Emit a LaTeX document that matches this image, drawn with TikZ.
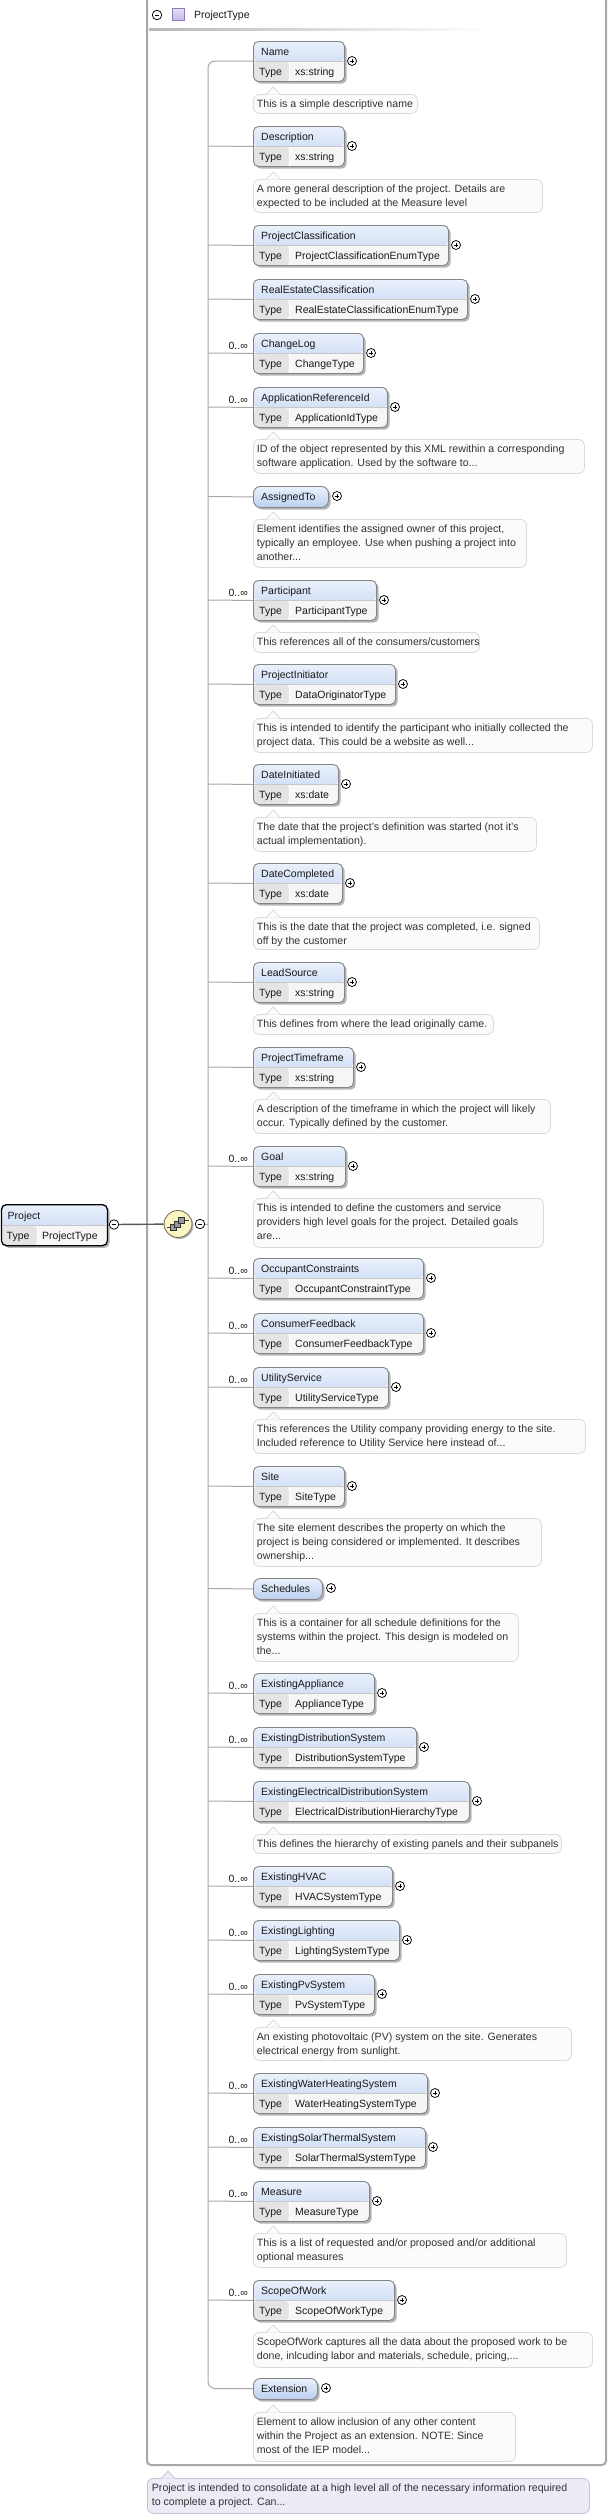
\documentclass[tikz,border=0pt]{standalone}
\usepackage{fontspec}
\setmainfont{Liberation Sans}
\usetikzlibrary{shadows,shapes.geometric}
\definecolor{framec}{HTML}{A8A8A8}
\definecolor{treec}{HTML}{A8A8A8}
\definecolor{boxc}{HTML}{858585}
\definecolor{hdtop}{HTML}{EAF1FC}
\definecolor{hdbot}{HTML}{BCD0F0}
\definecolor{typec}{HTML}{E4E4E4}
\definecolor{valc}{HTML}{F6F6F6}
\definecolor{shadc}{HTML}{B4B4B4}
\definecolor{docfill}{HTML}{FBFBFB}
\definecolor{docline}{HTML}{DADADA}
\definecolor{pdocfill}{HTML}{EEEAF6}
\definecolor{pdocline}{HTML}{C9C3D6}
\definecolor{seqfill}{HTML}{FBF6C4}
\definecolor{seqline}{HTML}{7A7660}
\definecolor{sqfill}{HTML}{C6B6E4}
\definecolor{sqline}{HTML}{8C7DB4}
\definecolor{txt}{HTML}{1A1A1A}
\newif\ifconn
\conntrue
\newcommand\tdots{...}
\tikzset{
 etext/.style={anchor=base west, inner sep=0pt, text=txt, font=\fontsize{10.5}{12}\selectfont},
 dtext/.style={anchor=base west, inner sep=0pt, text=black!80, font=\fontsize{10.6}{12}\selectfont},
 mtext/.style={anchor=base east, inner sep=0pt, text=txt, font=\fontsize{10.5}{12}\selectfont},
 treeline/.style={draw=treec, line width=1pt},
 shad/.style={drop shadow={shadow xshift=2.2pt, shadow yshift=-2.2pt, fill=shadc, opacity=1}},
 elembox/.style={anchor=north west, inner sep=0pt, minimum height=40pt, draw=boxc, line width=0.9pt,
   rounded corners=5pt, fill=valc, shad,
   path picture={
     \fill[top color=hdtop, bottom color=hdbot] (path picture bounding box.north west) rectangle ([yshift=20pt]path picture bounding box.south east);
     \fill[typec] ([yshift=20pt]path picture bounding box.south west) rectangle ([xshift=36pt]path picture bounding box.south west);
     \draw[white, line width=1pt] ([xshift=36pt]path picture bounding box.south west) -- ([xshift=36pt,yshift=20pt]path picture bounding box.south west);
     \draw[black!22, line width=0.6pt] ([yshift=20pt]path picture bounding box.south west) -- ([yshift=20pt]path picture bounding box.south east);
   }},
 projbox/.style={elembox, draw=black, line width=1.3pt, minimum height=41pt},
 pillbox/.style={anchor=north west, inner sep=0pt, minimum height=21pt, draw=boxc, line width=0.9pt,
   rounded corners=7pt, top color=hdtop, bottom color=hdbot, shad},
 docbox/.style={anchor=north west, inner sep=0pt, draw=docline, fill=docfill, rounded corners=6pt, line width=0.8pt},
 pdocbox/.style={anchor=north west, inner sep=0pt, draw=pdocline, fill=pdocfill, rounded corners=6pt, line width=0.8pt},
 plusc/.style={circle, draw=black, line width=0.75pt, fill=white, minimum size=9pt, inner sep=0pt,
   path picture={
     \draw[line width=0.75pt] ([xshift=-2.3pt]path picture bounding box.center) -- ([xshift=2.3pt]path picture bounding box.center);
     \draw[line width=0.75pt] ([yshift=-2.3pt]path picture bounding box.center) -- ([yshift=2.3pt]path picture bounding box.center);
   }},
 minusc/.style={circle, draw=black, line width=0.75pt, fill=white, minimum size=9.5pt, inner sep=0pt,
   path picture={
     \draw[line width=0.75pt] ([xshift=-2.4pt]path picture bounding box.center) -- ([xshift=2.4pt]path picture bounding box.center);
   }},
 seqnode/.style={ellipse, draw=seqline, line width=0.9pt, fill=seqfill, minimum width=28pt, minimum height=27pt, inner sep=0pt,
   drop shadow={shadow xshift=1.5pt, shadow yshift=-1.5pt, fill=shadc, opacity=1}},
}
\newcommand\elem[6]{%
  \node[elembox, minimum width={(#3-253)*1pt}] (e#1) at (253,#2) {};
  \node[etext] at (261,#2+14.2) {#4};
  \node[etext] at (259,#2+34) {Type};
  \node[etext] at (295,#2+34) {#5};
  \node[plusc] (p#1) at (#3+8,#2+20) {};
  \coordinate (t#1) at (208,#2+20);
  \ifconn\draw[treeline] (t#1) -- (e#1.west);\fi
  \if\relax\detokenize{#6}\relax\else\node[mtext] at (248,#2+16) {0..∞};\fi
}
\newcommand\pill[3]{%
  \node[pillbox, minimum width={(#3-253)*1pt}] (e#1) at (253,#2) {};
  \node[etext] at (261,#2+14.3) {#1};
  \node[plusc] (p#1) at (#3+9,#2+10) {};
  \coordinate (t#1) at (208,#2+10.5);
  \ifconn\draw[treeline] (t#1) -- (e#1.west);\fi
}
\newcommand\doc[5]{%
  \node[docbox, minimum width={(#4-253)*1pt}, minimum height={(#3-#2)*1pt}] (d#1) at (253,#2) {};
  \fill[docfill] (266.5,#2+0.7) -- (273.3,#2-7) -- (280,#2+0.7) -- cycle;
  \draw[docline, line width=0.8pt] (266.5,#2) -- (273.3,#2-7) -- (280,#2);
  \foreach \dl [count=\k] in {#5} {\node[dtext] at (256.7,#2+13.7*\k) {\dl};}
}
\begin{document}
\begin{tikzpicture}[x=1pt,y=-1pt]
\useasboundingbox[fill=white] (0,0) rectangle (608,2516);
% outer frame
\draw[draw=framec, line width=2pt, fill=white, rounded corners=4pt] (147,-4) rectangle (606,2465);
% header
\node[minusc] (hmin) at (157,15) {};
\node[draw=sqline, top color=sqfill!45, bottom color=sqfill, minimum size=12pt, inner sep=0pt] (hsq) at (178,14.5) {};
\node[etext] (htitle) at (194,18.3) {ProjectType};
\fill[left color=black!28, right color=white] (149,28.5) rectangle (490,30);
% tree
\draw[treeline, rounded corners=7pt] (253,61) -| (208,1224) |- (253,2388.5);
\connfalse
\elem{Name}{41}{344}{Name}{xs:string}{}
\conntrue
\doc{Name}{94}{113}{417}{{This is a simple descriptive name}}
\elem{Description}{126}{344}{Description}{xs:string}{}
\doc{Description}{179}{212}{542}{{A more general description of the project. Details are},{expected to be included at the Measure level}}
\elem{ProjectClassification}{225}{448}{ProjectClassification}{ProjectClassificationEnumType}{}
\elem{RealEstateClassification}{279}{467}{RealEstateClassification}{RealEstateClassificationEnumType}{}
\elem{ChangeLog}{333}{363}{ChangeLog}{ChangeType}{m}
\elem{ApplicationReferenceId}{387}{387}{ApplicationReferenceId}{ApplicationIdType}{m}
\doc{ApplicationReferenceId}{439}{473}{584}{{ID of the object represented by this XML rewithin a corresponding},{software application. Used by the software to\tdots}}
\pill{AssignedTo}{486}{328}
\doc{AssignedTo}{519}{567}{526}{{Element identifies the assigned owner of this project,},{typically an employee. Use when pushing a project into},{another\tdots}}
\elem{Participant}{580}{376}{Participant}{ParticipantType}{m}
\doc{Participant}{632}{652}{479}{{This references all of the consumers/customers}}
\elem{ProjectInitiator}{664}{395}{ProjectInitiator}{DataOriginatorType}{}
\doc{ProjectInitiator}{718}{752}{592}{{This is intended to identify the participant who initially collected the},{project data. This could be a website as well\tdots}}
\elem{DateInitiated}{764}{338}{DateInitiated}{xs:date}{}
\doc{DateInitiated}{817}{851}{536}{{The date that the project's definition was started (not it's},{actual implementation).}}
\elem{DateCompleted}{863}{342}{DateCompleted}{xs:date}{}
\doc{DateCompleted}{917}{949}{539}{{This is the date that the project was completed, i.e. signed},{off by the customer}}
\elem{LeadSource}{962}{344}{LeadSource}{xs:string}{}
\doc{LeadSource}{1014}{1034}{493}{{This defines from where the lead originally came.}}
\elem{ProjectTimeframe}{1047}{353}{ProjectTimeframe}{xs:string}{}
\doc{ProjectTimeframe}{1099}{1133}{550}{{A description of the timeframe in which the project will likely},{occur. Typically defined by the customer.}}
\elem{Goal}{1146}{345}{Goal}{xs:string}{m}
\doc{Goal}{1198}{1247}{543}{{This is intended to define the customers and service},{providers high level goals for the project. Detailed goals},{are\tdots}}
\elem{OccupantConstraints}{1258}{423}{OccupantConstraints}{OccupantConstraintType}{m}
\elem{ConsumerFeedback}{1313}{423}{ConsumerFeedback}{ConsumerFeedbackType}{m}
\elem{UtilityService}{1367}{388}{UtilityService}{UtilityServiceType}{m}
\doc{UtilityService}{1419}{1453}{585}{{This references the Utility company providing energy to the site.},{Included reference to Utility Service here instead of\tdots}}
\elem{Site}{1466}{344}{Site}{SiteType}{}
\doc{Site}{1518}{1566}{541}{{The site element describes the property on which the},{project is being considered or implemented. It describes},{ownership\tdots}}
\pill{Schedules}{1578}{322}
\doc{Schedules}{1613}{1661}{518}{{This is a container for all schedule definitions for the},{systems within the project. This design is modeled on},{the\tdots}}
\elem{ExistingAppliance}{1673}{374}{ExistingAppliance}{ApplianceType}{m}
\elem{ExistingDistributionSystem}{1727}{416}{ExistingDistributionSystem}{DistributionSystemType}{m}
\elem{ExistingElectricalDistributionSystem}{1781}{469}{ExistingElectricalDistributionSystem}{ElectricalDistributionHierarchyType}{}
\doc{ExistingElectricalDistributionSystem}{1834}{1853}{561}{{This defines the hierarchy of existing panels and their subpanels}}
\elem{ExistingHVAC}{1866}{392}{ExistingHVAC}{HVACSystemType}{m}
\elem{ExistingLighting}{1920}{399}{ExistingLighting}{LightingSystemType}{m}
\elem{ExistingPvSystem}{1974}{374}{ExistingPvSystem}{PvSystemType}{m}
\doc{ExistingPvSystem}{2027}{2060}{571}{{An existing photovoltaic (PV) system on the site. Generates},{electrical energy from sunlight.}}
\elem{ExistingWaterHeatingSystem}{2073}{427}{ExistingWaterHeatingSystem}{WaterHeatingSystemType}{m}
\elem{ExistingSolarThermalSystem}{2127}{425}{ExistingSolarThermalSystem}{SolarThermalSystemType}{m}
\elem{Measure}{2181}{369}{Measure}{MeasureType}{m}
\doc{Measure}{2233}{2267}{566}{{This is a list of requested and/or proposed and/or additional},{optional measures}}
\elem{ScopeOfWork}{2280}{394}{ScopeOfWork}{ScopeOfWorkType}{m}
\doc{ScopeOfWork}{2332}{2367}{592}{{ScopeOfWork captures all the data about the proposed work to be},{done, inlcuding labor and materials, schedule, pricing,\tdots}}
\connfalse
\pill{Extension}{2378}{317}
\conntrue
\doc{Extension}{2412}{2461}{515}{{Element to allow inclusion of any other content},{within the Project as an extension. NOTE: Since},{most of the IEP model\tdots}}
% root element
\node[projbox, minimum width=106pt] (project) at (0.8,1204) {};
\node[etext] at (7.5,1219) {Project};
\node[etext] at (6.5,1239.5) {Type};
\node[etext] at (42,1239.5) {ProjectType};
\node[minusc] (pmin) at (114,1224.5) {};
\node[seqnode] (seq) at (178,1224) {};
\draw[line width=1.4pt, black!65] (pmin) -- (seq);
\draw[black!75, line width=0.8pt] (167,1227.5) -- (172,1227.5);
\draw[black!75, line width=0.8pt] (183,1220.5) -- (189,1220.5);
\filldraw[fill=black!40, draw=black!80, line width=0.5pt] (170.5,1224.5) rectangle (176.5,1230.5);
\filldraw[fill=black!40, draw=black!80, line width=0.5pt] (174.5,1221) rectangle (180.5,1227);
\filldraw[fill=black!40, draw=black!80, line width=0.5pt] (178.5,1217.5) rectangle (184.5,1223.5);
\node[minusc] (smin) at (200,1224) {};
\coordinate (tseq) at (208,1224);
\draw[treeline] (smin) -- (tseq);
% root documentation
\node[pdocbox, minimum width=442pt, minimum height=35pt] (pdoc) at (147,2478) {};
\fill[pdocfill] (161.5,2478.7) -- (168,2471) -- (174.5,2478.7) -- cycle;
\draw[pdocline, line width=0.8pt] (161.5,2478) -- (168,2471) -- (174.5,2478);
\node[dtext] at (151.7,2491.7) {Project is intended to consolidate at a high level all of the necessary information required};
\node[dtext] at (151.7,2505.4) {to complete a project. Can\tdots};
\end{tikzpicture}
\end{document}
